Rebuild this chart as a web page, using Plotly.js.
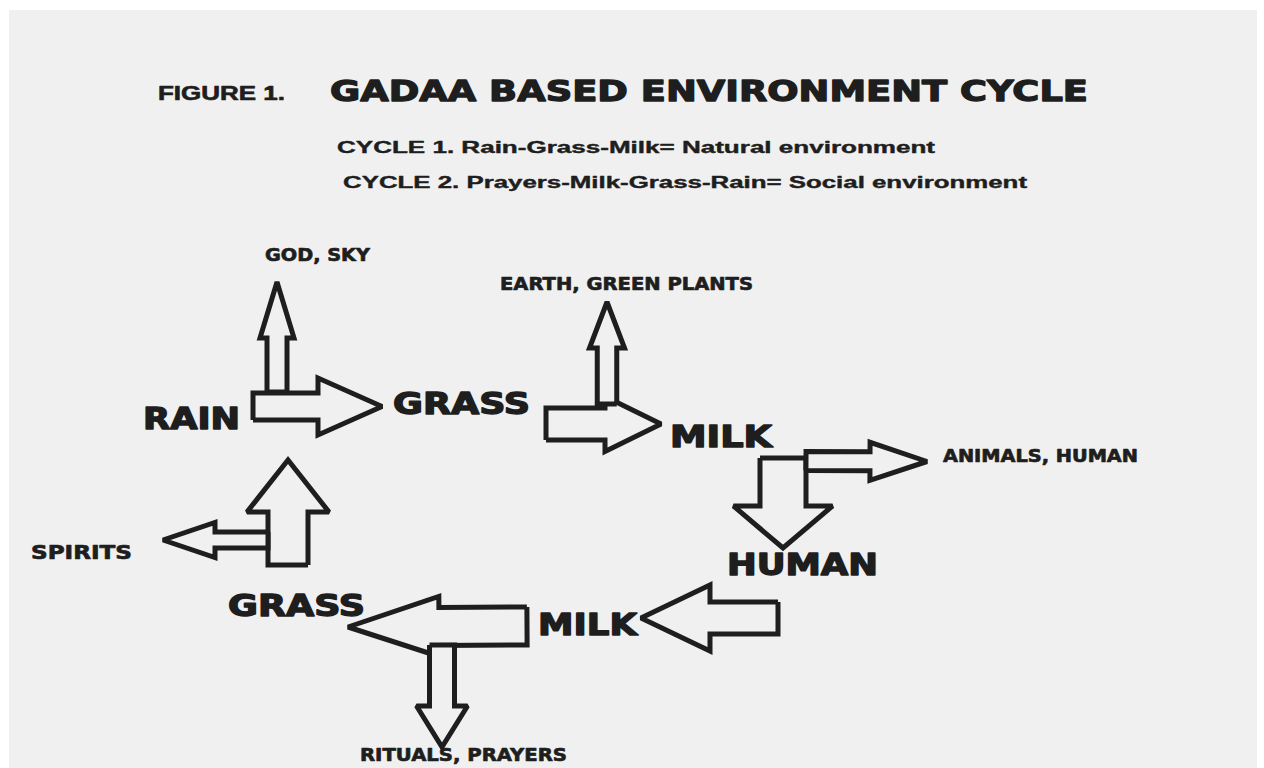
<!DOCTYPE html>
<html>
<head>
<meta charset="utf-8">
<script src="https://cdn.plot.ly/plotly-3.0.1.min.js"></script>
<style>
  html, body { margin: 0; padding: 0; background: #ffffff; }
  #chart { width: 1264px; height: 768px; }
</style>
</head>
<body>
<div id="chart"></div>
<script>
// ---- Diagram content ----
const labels = [
  "FIGURE 1.",
  "GADAA BASED ENVIRONMENT CYCLE",
  "CYCLE 1. Rain-Grass-Milk= Natural environment",
  "CYCLE 2. Prayers-Milk-Grass-Rain= Social environment",
  "GOD, SKY",
  "EARTH, GREEN PLANTS",
  "RAIN",
  "GRASS",
  "MILK",
  "ANIMALS, HUMAN",
  "HUMAN",
  "SPIRITS",
  "GRASS",
  "MILK",
  "RITUALS, PRAYERS"
];
// label placement (left edge, right edge, vertical centre of capitals), in pixel units of the drawing
const labelLeft  = [158, 330, 337, 343, 265, 500, 143, 393, 670, 943, 727, 31, 228, 538, 360];
const labelRight = [285, 1088, 935, 1027, 370, 753, 240, 530, 772, 1138, 878, 132, 365, 637, 567];
const labelMidY  = [93, 90.5, 146.5, 182, 254.5, 283.5, 419, 403.5, 437, 456, 564.5, 552, 605.5, 625, 754];
const labelSize  = [19.5, 29, 16.5, 16.5, 18, 18, 29.5, 29.5, 29.5, 17, 29.5, 19, 29.5, 29.5, 18];
const labelFace  = ["Liberation Sans", "DejaVu Sans", "Liberation Sans", "Liberation Sans",
                    "DejaVu Sans", "DejaVu Sans", "DejaVu Sans", "DejaVu Sans", "DejaVu Sans",
                    "DejaVu Sans", "DejaVu Sans", "DejaVu Sans", "DejaVu Sans", "DejaVu Sans", "DejaVu Sans"];
// extra outline to reach the heavy weight of the figure's lettering
const labelHeavy = [0.6, 1.3, 0.4, 0.4, 0.7, 0.7, 1.4, 1.4, 1.4, 0.7, 1.4, 0.7, 1.4, 1.4, 0.7];

// arrows: tail point, tip point, shaft width, head width, head length
const arrowNames = ["Rain to Grass", "to God, Sky", "Grass to Milk", "to Earth, Green plants",
                    "Milk to Human", "to Animals, Human", "Human to Milk", "Milk to Grass",
                    "to Rituals, Prayers", "Grass to Rain", "to Spirits"];
const tailX  = [253, 277, 546, 607, 783, 806, 778, 527, 442, 288, 268];
const tailY  = [406.5, 392, 424, 404, 458, 461, 618, 626, 645, 565, 540];
const tipX   = [382, 277, 661, 607, 783, 927, 641, 348, 442, 288, 163];
const tipY   = [406.5, 282, 424, 302, 548, 461.5, 618, 627, 747, 460, 540];
const shaftW = [27, 20, 32, 19.5, 46, 19, 32, 38, 25, 40, 16];
const headW  = [57, 34, 55, 35, 99, 38, 66, 60, 51, 82, 35];
const headL  = [64, 56, 56, 46, 42, 57, 69, 91, 41, 52, 52];

// ---- Build arrow outlines ----
function arrowPolygon(i) {
  const dx = tipX[i] - tailX[i], dy = tipY[i] - tailY[i];
  const L = Math.hypot(dx, dy);
  const ux = dx / L, uy = dy / L;
  const nx = -uy, ny = ux;
  const bx = tipX[i] - ux * headL[i], by = tipY[i] - uy * headL[i];
  const s = shaftW[i] / 2, h = headW[i] / 2;
  const pts = [
    [tailX[i] + nx * s, tailY[i] + ny * s],
    [bx + nx * s, by + ny * s],
    [bx + nx * h, by + ny * h],
    [tipX[i], tipY[i]],
    [bx - nx * h, by - ny * h],
    [bx - nx * s, by - ny * s],
    [tailX[i] - nx * s, tailY[i] - ny * s],
    [tailX[i] + nx * s, tailY[i] + ny * s]
  ];
  return { x: pts.map(p => p[0]), y: pts.map(p => p[1]) };
}

const bg = "#f0f0f0";
const ink = "#1e1e1e";

const traces = arrowNames.map((name, i) => {
  const p = arrowPolygon(i);
  return {
    type: "scatter", mode: "lines", name: name,
    x: p.x, y: p.y,
    fill: "toself", fillcolor: bg,
    line: { color: ink, width: 5, shape: "linear" },
    hoverinfo: "skip", showlegend: false
  };
});

const annotations = labels.map((t, i) => ({
  text: t,
  x: labelLeft[i] - 2, y: labelMidY[i],
  xref: "x", yref: "y",
  xanchor: "left", yanchor: "middle", align: "left",
  showarrow: false,
  font: { family: labelFace[i], size: labelSize[i], color: ink, weight: "bold" }
}));

const layout = {
  width: 1264, height: 768,
  margin: { l: 0, r: 0, t: 0, b: 0 },
  paper_bgcolor: "#ffffff",
  plot_bgcolor: "rgba(0,0,0,0)",
  xaxis: { range: [0, 1264], visible: false, fixedrange: true },
  yaxis: { range: [768, 0], visible: false, fixedrange: true },
  showlegend: false,
  shapes: [{
    type: "rect", xref: "x", yref: "y",
    x0: 9, x1: 1257, y0: 10, y1: 768,
    fillcolor: bg, line: { width: 0 }, layer: "below"
  }],
  annotations: annotations
};

Plotly.newPlot("chart", traces, layout, { staticPlot: true, displayModeBar: false }).then(() => {
  // stretch each label to the width it has in the figure, and thicken the strokes
  labels.forEach((t, i) => {
    const el = document.querySelector('g.annotation[data-index="' + i + '"] text.annotation-text');
    if (el) {
      el.setAttribute("textLength", String(labelRight[i] - labelLeft[i]));
      el.setAttribute("lengthAdjust", "spacingAndGlyphs");
      el.style.stroke = ink;
      el.style.strokeWidth = labelHeavy[i] + "px";
      el.style.strokeLinejoin = "round";
    }
  });
});
</script>
</body>
</html>
